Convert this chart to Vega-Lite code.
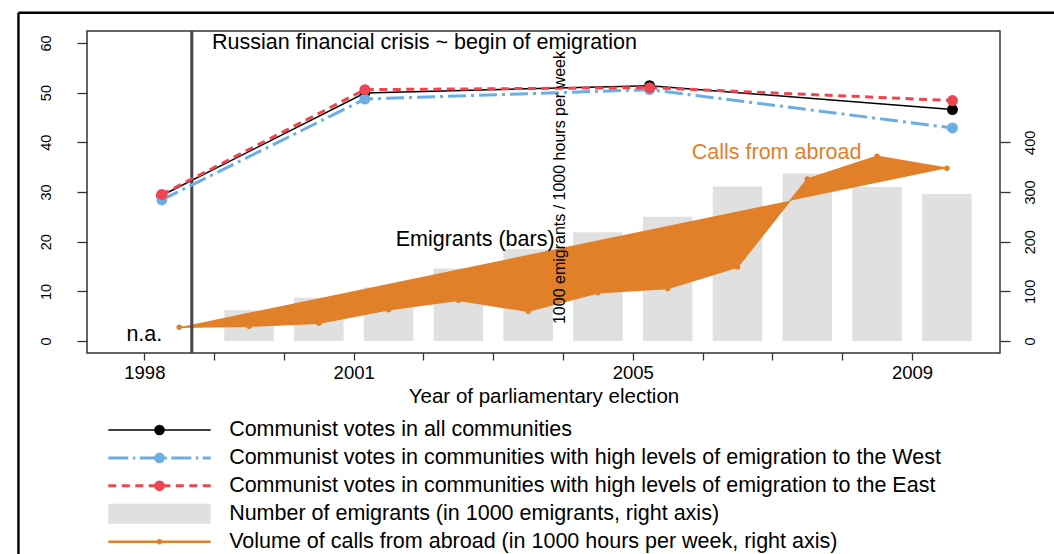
{
  "$schema": "https://vega.github.io/schema/vega-lite/v6.json",
  "width": 913,
  "height": 322,
  "autosize": {"type": "none"},
  "padding": {"left": 87, "top": 31, "right": 54, "bottom": 201},
  "background": "white",
  "config": {
    "view": {"stroke": "#333333", "strokeWidth": 1.5},
    "font": "Liberation Sans",
    "axis": {"labelFont": "Liberation Sans", "titleFont": "Liberation Sans", "labelColor": "#000000", "titleColor": "#000000", "tickColor": "#333333", "tickWidth": 1.3, "grid": false, "domain": false, "titleFontWeight": "normal"},
    "text": {"font": "Liberation Sans"}
  },
  "datasets": {
    "votes": [
      {"year": 1998.25, "pct": 29.3, "s": "all"},
      {"year": 2001.16, "pct": 49.9, "s": "all"},
      {"year": 2005.24, "pct": 51.4, "s": "all"},
      {"year": 2009.58, "pct": 46.6, "s": "all"},
      {"year": 1998.25, "pct": 28.4, "s": "west"},
      {"year": 2001.16, "pct": 48.7, "s": "west"},
      {"year": 2005.24, "pct": 50.6, "s": "west"},
      {"year": 2009.58, "pct": 42.9, "s": "west"},
      {"year": 1998.25, "pct": 29.5, "s": "east"},
      {"year": 2001.16, "pct": 50.6, "s": "east"},
      {"year": 2005.24, "pct": 51.0, "s": "east"},
      {"year": 2009.58, "pct": 48.4, "s": "east"}
    ],
    "calls": [
      {"year": 1998.5, "v": 28},
      {"year": 1999.5, "v": 30},
      {"year": 2000.5, "v": 36},
      {"year": 2001.5, "v": 63},
      {"year": 2002.5, "v": 82},
      {"year": 2003.5, "v": 60},
      {"year": 2004.5, "v": 97},
      {"year": 2005.5, "v": 106},
      {"year": 2006.5, "v": 149},
      {"year": 2007.5, "v": 326},
      {"year": 2008.5, "v": 372},
      {"year": 2009.5, "v": 348}
    ],
    "emigrants": [
      {"year": 1999.5, "v": 62},
      {"year": 2000.5, "v": 87},
      {"year": 2001.5, "v": 108},
      {"year": 2002.5, "v": 146},
      {"year": 2003.5, "v": 185},
      {"year": 2004.5, "v": 219},
      {"year": 2005.5, "v": 250},
      {"year": 2006.5, "v": 311},
      {"year": 2007.5, "v": 337},
      {"year": 2008.5, "v": 310},
      {"year": 2009.5, "v": 296}
    ]
  },
  "layer": [
    {
      "encoding": {
        "x": {
          "field": "year", "type": "quantitative",
          "scale": {"domain": [1997.25, 2010.19], "nice": false, "zero": false},
          "axis": {
            "values": [1998, 1999, 2000, 2001, 2002, 2003, 2004, 2005, 2006, 2007, 2008, 2009],
            "format": "d",
            "labelExpr": "indexof([1998, 2001, 2005, 2009], datum.value) >= 0 ? datum.label : ''",
            "labelOverlap": false,
            "labelFlush": false,
            "tickSize": 7,
            "labelPadding": 3.5,
            "labelFontSize": 18.5,
            "title": "Year of parliamentary election",
            "titleFontSize": 20.5,
            "titleBaseline": "alphabetic",
            "titleY": 49
          }
        }
      },
      "layer": [
        {
          "encoding": {
            "y": {
              "field": "v", "type": "quantitative", "title": null,
              "scale": {"domain": [-24, 624], "nice": false},
              "axis": {"orient": "right", "values": [0, 100, 200, 300, 400], "labelAngle": -90, "labelAlign": "center", "labelBaseline": "top", "tickSize": 10, "labelPadding": 13.5, "labelFontSize": 14.5}
            }
          },
          "layer": [
            {"data": {"name": "emigrants"}, "mark": {"type": "bar", "color": "#E0E0E0", "width": 49.5}},
            {"data": {"name": "calls"}, "mark": {"type": "line", "stroke": "#E2802A", "fill": "#E2802A", "strokeWidth": 1.5}},
            {"data": {"name": "calls"}, "mark": {"type": "point", "filled": true, "color": "#E2802A", "size": 30, "opacity": 1}}
          ]
        },
        {
          "encoding": {
            "y": {
              "field": "pct", "type": "quantitative", "title": null,
              "scale": {"domain": [-2.4, 62.4], "nice": false},
              "axis": {"orient": "left", "values": [0, 10, 20, 30, 40, 50, 60], "labelAngle": -90, "labelAlign": "center", "labelBaseline": "bottom", "tickSize": 10, "labelPadding": 23.5, "labelFontSize": 14.5}
            }
          },
          "layer": [
            {"data": {"values": [{"year": 1998.68, "pct": -2.4, "pct2": 62.4}]}, "mark": {"type": "rule", "color": "#444444", "strokeWidth": 3}, "encoding": {"y2": {"field": "pct2"}}},
            {"data": {"name": "votes"}, "transform": [{"filter": "datum.s == 'all'"}], "mark": {"type": "line", "color": "#000000", "strokeWidth": 1.5}},
            {"data": {"name": "votes"}, "transform": [{"filter": "datum.s == 'all'"}], "mark": {"type": "point", "filled": true, "color": "#000000", "size": 120, "opacity": 1}},
            {"data": {"name": "votes"}, "transform": [{"filter": "datum.s == 'west'"}], "mark": {"type": "line", "color": "#6AAEE3", "strokeWidth": 3, "strokeDash": [18, 5, 3, 5]}},
            {"data": {"name": "votes"}, "transform": [{"filter": "datum.s == 'west'"}], "mark": {"type": "point", "filled": true, "color": "#6AAEE3", "size": 120, "opacity": 1}},
            {"data": {"name": "votes"}, "transform": [{"filter": "datum.s == 'east'"}], "mark": {"type": "line", "color": "#EF4550", "strokeWidth": 3, "strokeDash": [8, 5.5]}},
            {"data": {"name": "votes"}, "transform": [{"filter": "datum.s == 'east'"}], "mark": {"type": "point", "filled": true, "color": "#EF4550", "size": 120, "opacity": 1}},
            {"data": {"values": [{"year": 1998.97, "pct": 60, "label": "Russian financial crisis ~ begin of emigration"}]}, "mark": {"type": "text", "align": "left", "baseline": "middle", "fontSize": 21.5, "color": "#000000"}, "encoding": {"text": {"field": "label", "type": "nominal"}}},
            {"data": {"values": [{"year": 1998.0, "pct": 1.15, "label": "n.a."}, {"year": 2002.74, "pct": 20.34, "label": "Emigrants (bars)"}]}, "mark": {"type": "text", "align": "center", "baseline": "middle", "fontSize": 21.5, "color": "#000000"}, "encoding": {"text": {"field": "label", "type": "nominal"}}},
            {"data": {"values": [{"year": 2007.06, "pct": 37.8, "label": "Calls from abroad"}]}, "mark": {"type": "text", "align": "center", "baseline": "middle", "fontSize": 21.5, "color": "#E2802A"}, "encoding": {"text": {"field": "label", "type": "nominal"}}},
            {"data": {"values": [{"year": 2003.95, "pct": 30.9, "label": "1000 emigrants / 1000 hours per week"}]}, "mark": {"type": "text", "align": "center", "baseline": "middle", "fontSize": 16, "angle": 270, "color": "#000000"}, "encoding": {"text": {"field": "label", "type": "nominal"}}},
            {"data": {"values": [{"year": 1996.196, "pct": 66.06, "pct2": -50}]}, "mark": {"type": "rule", "color": "#000000", "strokeWidth": 2.4}, "encoding": {"y2": {"field": "pct2"}}},
            {"data": {"values": [{"year": 1996.196, "year2": 2011.6, "pct": 66.06}]}, "mark": {"type": "rule", "color": "#000000", "strokeWidth": 2.4}, "encoding": {"x2": {"field": "year2"}}}
          ]
        }
      ],
      "resolve": {"scale": {"y": "independent"}}
    },
    {
      "encoding": {
        "x": {"field": "lx", "type": "quantitative", "scale": {"domain": [0, 1], "range": [21.3, 123.7], "nice": false, "zero": false}, "axis": null},
        "y": {"field": "ly", "type": "quantitative", "scale": {"domain": [1, 5], "range": [399, 510.7], "nice": false, "zero": false}, "axis": null}
      },
      "layer": [
        {"data": {"values": [{"lx": 0, "ly": 1}, {"lx": 1, "ly": 1}]}, "mark": {"type": "line", "color": "#000000", "strokeWidth": 1.5}},
        {"data": {"values": [{"lx": 0, "ly": 2}, {"lx": 1, "ly": 2}]}, "mark": {"type": "line", "color": "#6AAEE3", "strokeWidth": 3, "strokeDash": [20, 4.5, 2.5, 4.5]}},
        {"data": {"values": [{"lx": 0, "ly": 3}, {"lx": 1, "ly": 3}]}, "mark": {"type": "line", "color": "#EF4550", "strokeWidth": 3, "strokeDash": [8, 5.5]}},
        {"data": {"values": [{"lx": 0, "ly": 5}, {"lx": 1, "ly": 5}]}, "mark": {"type": "line", "color": "#E2802A", "strokeWidth": 2.5}},
        {"data": {"values": [{"lx": 0, "lx2": 1, "ly": 3.642, "ly2": 4.358}]}, "mark": {"type": "rect", "color": "#E0E0E0"}, "encoding": {"x2": {"field": "lx2"}, "y2": {"field": "ly2"}}},
        {"data": {"values": [{"lx": 0.5, "ly": 1, "c": "a"}, {"lx": 0.5, "ly": 2, "c": "b"}, {"lx": 0.5, "ly": 3, "c": "c"}]}, "mark": {"type": "point", "filled": true, "size": 113, "opacity": 1}, "encoding": {"color": {"field": "c", "type": "nominal", "scale": {"domain": ["a", "b", "c"], "range": ["#000000", "#6AAEE3", "#EF4550"]}, "legend": null}}},
        {"data": {"values": [{"lx": 0.5, "ly": 5}]}, "mark": {"type": "point", "filled": true, "size": 30, "opacity": 1, "color": "#E2802A"}},
        {"data": {"values": [
          {"lx": 1.18, "ly": 1, "label": "Communist votes in all communities"},
          {"lx": 1.18, "ly": 2, "label": "Communist votes in communities with high levels of emigration to the West"},
          {"lx": 1.18, "ly": 3, "label": "Communist votes in communities with high levels of emigration to the East"},
          {"lx": 1.18, "ly": 4, "label": "Number of emigrants (in 1000 emigrants, right axis)"},
          {"lx": 1.18, "ly": 5, "label": "Volume of calls from abroad (in 1000 hours per week, right axis)"}
        ]}, "mark": {"type": "text", "align": "left", "baseline": "middle", "fontSize": 21.5, "color": "#000000"}, "encoding": {"text": {"field": "label", "type": "nominal"}}}
      ]
    }
  ],
  "resolve": {"scale": {"x": "independent", "y": "independent"}}
}
